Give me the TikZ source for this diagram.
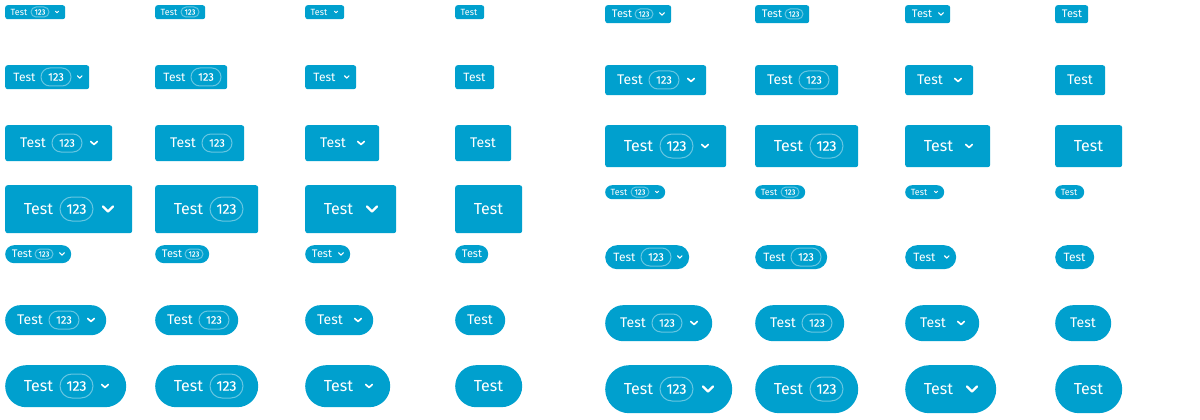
\documentclass[tikz,border=0pt]{standalone}
\usepackage{fontspec}
\setmainfont{Fira Sans}
\newfontfamily\numfont{Fira Sans}[FakeBold=2]
\definecolor{btnblue}{RGB}{0,160,206}
\tikzset{
  btnbox/.style={fill=btnblue, draw=none, inner sep=0pt, anchor=north west},
  btnlabel/.style={text=white, inner sep=0pt, anchor=center},
  badgebox/.style={draw=white, draw opacity=0.4, line width=1pt, inner sep=0pt, text=white, anchor=center},
  chevline/.style={draw=white, line cap=round, line join=round},
}
% classes: h, pad, text width, gap text-badge, badge w, badge h, gap badge-chev,
% chevron total w, chevron path w, chevron path h, gap text-chev, font, badge font, line width
\def\clsA{\def\bhh{14}\def\bpad{6}\def\btw{16}\def\bgA{4}\def\bbw{18}\def\bbh{10}\def\bgB{6}\def\bcw{4}\def\bcp{3.2}\def\bchh{1.6}\def\bgC{7}\def\bfs{9}\def\bbfs{7.5}\def\blw{0.9}}
\def\clsB{\def\bhh{18}\def\bpad{7}\def\btw{20}\def\bgA{3}\def\bbw{18}\def\bbh{10}\def\bgB{6}\def\bcw{6}\def\bcp{4.8}\def\bchh{2.4}\def\bgC{6}\def\bfs{11}\def\bbfs{7.5}\def\blw{1.1}}
\def\clsC{\def\bhh{24}\def\bpad{9}\def\btw{21}\def\bgA{6}\def\bbw{30}\def\bbh{18}\def\bgB{6}\def\bcw{5.5}\def\bcp{4.4}\def\bchh{2.2}\def\bgC{9}\def\bfs{12}\def\bbfs{11}\def\blw{1.2}}
\def\clsD{\def\bhh{30}\def\bpad{12}\def\btw{26}\def\bgA{6}\def\bbw{30}\def\bbh{18}\def\bgB{8}\def\bcw{8}\def\bcp{6.5}\def\bchh{3.2}\def\bgC{11}\def\bfs{14}\def\bbfs{11}\def\blw{1.6}}
\def\clsE{\def\bhh{36}\def\bpad{15}\def\btw{26}\def\bgA{6}\def\bbw{30}\def\bbh{18}\def\bgB{8}\def\bcw{8}\def\bcp{6.5}\def\bchh{3.2}\def\bgC{11}\def\bfs{14}\def\bbfs{11}\def\blw{1.6}}
\def\clsF{\def\bhh{42}\def\bpad{19}\def\btw{29}\def\bgA{7}\def\bbw{33}\def\bbh{24}\def\bgB{8}\def\bcw{8}\def\bcp{6.5}\def\bchh{3.2}\def\bgC{12}\def\bfs{16}\def\bbfs{14}\def\blw{1.6}}
\def\clsG{\def\bhh{48}\def\bpad{19}\def\btw{29}\def\bgA{7}\def\bbw{33}\def\bbh{24}\def\bgB{9}\def\bcw{12}\def\bcp{10}\def\bchh{5}\def\bgC{13}\def\bfs{16}\def\bbfs{14}\def\blw{2.2}}

\newcommand\chevmark[2]{%
  \draw[chevline, line width=\blw pt] (#1-\bcp/2, #2-\bchh/2) -- (#1, #2+\bchh/2) -- (#1+\bcp/2, #2-\bchh/2);}

\newcommand\btn[7]{% name, x, y, w, badge, chevron, pill
  \ifnum#7=1 \pgfmathsetmacro\brad{\bhh/2-0.01}\else\def\brad{2.5}\fi
  \pgfmathsetmacro\bbr{\bbh/2-0.01}%
  \node[btnbox, minimum width=#4pt, minimum height=\bhh pt, rounded corners=\brad pt] (#1) at (#2,#3) {};
  \node[btnlabel, font=\fontsize{\bfs pt}{\bfs pt}\selectfont] (#1t) at (#2+\bpad+\btw/2, #3+\bhh/2) {Test};
  \ifnum#5=1
    \node[badgebox, minimum width=\bbw pt, minimum height=\bbh pt, rounded corners=\bbr pt, font=\numfont\fontsize{\bbfs pt}{\bbfs pt}\selectfont] (#1b) at (#2+\bpad+\btw+\bgA+\bbw/2, #3+\bhh/2) {123};
    \ifnum#6=1
      \pgfmathsetmacro\cx{#2+\bpad+\btw+\bgA+\bbw+\bgB+\bcw/2}%
      \chevmark{\cx}{#3+\bhh/2}
    \fi
  \else
    \ifnum#6=1
      \pgfmathsetmacro\cx{#2+\bpad+\btw+\bgC+\bcw/2}%
      \chevmark{\cx}{#3+\bhh/2}
    \fi
  \fi
}

\newcommand\btnrow[9]{% prefix, y, class, pill, x0, w1..w4
  \csname cls#3\endcsname
  \btn{#1a}{#5}{#2}{#6}{1}{1}{#4}
  \btn{#1b}{#5+150}{#2}{#7}{1}{0}{#4}
  \btn{#1c}{#5+300}{#2}{#8}{0}{1}{#4}
  \btn{#1d}{#5+450}{#2}{#9}{0}{0}{#4}
}

\begin{document}
\begin{tikzpicture}[x=1pt,y=-1pt]
\fill[white] (0,0) rectangle (1200,420);
\useasboundingbox (0,0) rectangle (1200,420);
% left half
\btnrow{LA}{5}{A}{0}{5}{60}{50}{39}{29}
\btnrow{LB}{65}{C}{0}{5}{84}{72}{51}{39}
\btnrow{LC}{125}{E}{0}{5}{107}{89}{74}{56}
\btnrow{LD}{185}{G}{0}{5}{127}{103}{91}{67}
\btnrow{LE}{245}{B}{1}{5}{66}{54}{45}{33}
\btnrow{LF}{305}{D}{1}{5}{101}{83}{68}{50}
\btnrow{LG}{365}{F}{1}{5}{121}{103}{85}{67}
% right half
\btnrow{RA}{5}{B}{0}{605}{66}{54}{45}{33}
\btnrow{RB}{65}{D}{0}{605}{101}{83}{68}{50}
\btnrow{RC}{125}{F}{0}{605}{121}{103}{85}{67}
\btnrow{RD}{185}{A}{1}{605}{60}{50}{39}{29}
\btnrow{RE}{245}{C}{1}{605}{84}{72}{51}{39}
\btnrow{RF}{305}{E}{1}{605}{107}{89}{74}{56}
\btnrow{RG}{365}{G}{1}{605}{127}{103}{91}{67}
\end{tikzpicture}
\end{document}
